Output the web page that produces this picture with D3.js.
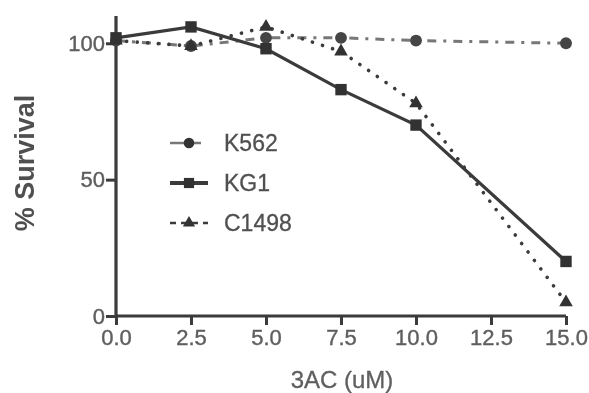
<!DOCTYPE html>
<html>
<head>
<meta charset="utf-8">
<script src="https://cdn.jsdelivr.net/npm/d3@7"></script>
<style>
  html, body { margin: 0; padding: 0; background: #fff; }
  svg { display: block; font-family: "Liberation Sans", Arial, sans-serif; }
</style>
</head>
<body>
<div id="chart"></div>
<script>
// concentrations of 3AC (uM)
var doses = [0, 2.5, 5, 7.5, 10, 15];
var k562 = [101, 99, 102, 102, 101, 100];
var kg1 = [102, 106, 98, 83, 70, 20];
var c1498 = [101, 99, 106, 97, 78, 5];
var xTicks = [0, 2.5, 5, 7.5, 10, 12.5, 15];
var yTicks = [0, 50, 100];
var seriesNames = ["K562", "KG1", "C1498"];

var w = 589, h = 393;
var margin = {top: 16, right: 23, bottom: 77, left: 116};
var svg = d3.select('#chart').append('svg').attr('width', w).attr('height', h);

var x = d3.scaleLinear().domain([0, 15]).range([margin.left, w - margin.right]);
var y = d3.scaleLinear().domain([0, 110]).range([h - margin.bottom, margin.top]);

svg.append('defs').append('filter').attr('id', 'soft')
  .append('feGaussianBlur').attr('stdDeviation', 0.75);
var g = svg.append('g').attr('filter', 'url(#soft)');

// axes
var xAxis = g.append('g').attr('transform', 'translate(0,' + y(0) + ')')
  .call(d3.axisBottom(x).tickValues(xTicks).tickFormat(d3.format('.1f')).tickSize(9).tickPadding(4));
var yAxis = g.append('g').attr('transform', 'translate(' + x(0) + ',0)')
  .call(d3.axisLeft(y).tickValues(yTicks).tickSize(10).tickPadding(1));
[xAxis, yAxis].forEach(function(a) {
  a.select('.domain').attr('stroke', '#3a3a3a').attr('stroke-width', 3.2);
  a.selectAll('.tick line').attr('stroke', '#3a3a3a').attr('stroke-width', 3);
  a.selectAll('.tick text').attr('fill', '#5e5e5e').attr('stroke', '#5e5e5e')
    .attr('stroke-width', 0.4).attr('font-size', '22px');
});
xAxis.select('.domain').attr('d', 'M' + x(0) + ',0H' + x(15));
yAxis.select('.domain').attr('d', 'M0,' + y(110) + 'V' + y(0));

// axis titles
g.append('text').attr('x', 342).attr('y', 388).attr('text-anchor', 'middle')
  .attr('font-size', '24px').attr('fill', '#5e5e5e').attr('stroke', '#5e5e5e').attr('stroke-width', 0.3)
  .text('3AC (uM)');
g.append('text').attr('transform', 'translate(34,163) rotate(-90)').attr('text-anchor', 'middle')
  .attr('font-size', '27px').attr('font-weight', 'bold').attr('fill', '#505050').text('% Survival');

var line = d3.line().x(function(d) { return x(d[0]); }).y(function(d) { return y(d[1]); });
function pts(vals) { return doses.map(function(d, i) { return [d, vals[i]]; }); }

var styles = [
  {vals: k562, stroke: '#777', width: 3, dash: '9,7,3,7', cap: 'butt', shape: d3.symbolCircle, size: 110},
  {vals: kg1, stroke: '#3a3a3a', width: 3.2, dash: null, cap: 'butt', shape: d3.symbolSquare, size: 130},
  {vals: c1498, stroke: '#3a3a3a', width: 3.6, dash: '0.1,10.5', cap: 'round', shape: d3.symbolTriangle, size: 80}
];

styles.forEach(function(s) {
  g.append('path').datum(pts(s.vals)).attr('d', line).attr('fill', 'none')
    .attr('stroke', s.stroke).attr('stroke-width', s.width)
    .attr('stroke-dasharray', s.dash).attr('stroke-linecap', s.cap);
});
styles.forEach(function(s) {
  g.selectAll(null).data(pts(s.vals)).join('path')
    .attr('transform', function(d) { return 'translate(' + x(d[0]) + ',' + y(d[1]) + ')'; })
    .attr('d', d3.symbol().type(s.shape).size(s.size))
    .attr('fill', s.stroke === '#777' ? '#444' : '#333');
});

// legend
var leg = g.append('g').attr('transform', 'translate(170,143)');
styles.forEach(function(s, i) {
  var row = leg.append('g').attr('transform', 'translate(0,' + i * 40 + ')');
  row.append('line').attr('x1', 0).attr('x2', i === 0 ? 31 : 38).attr('y1', 0).attr('y2', 0)
    .attr('stroke', s.stroke).attr('stroke-width', i === 1 ? 4 : 2.5)
    .attr('stroke-dasharray', i === 2 ? '6,5' : null);
  row.append('path').attr('transform', 'translate(19,0)')
    .attr('d', d3.symbol().type(s.shape).size(s.size * 0.8)).attr('fill', '#333');
  row.append('text').attr('x', 54).attr('y', 8).attr('font-size', '23px')
    .attr('fill', '#505050').attr('stroke', '#505050').attr('stroke-width', 0.3)
    .text(seriesNames[i]);
});
</script>
</body>
</html>
